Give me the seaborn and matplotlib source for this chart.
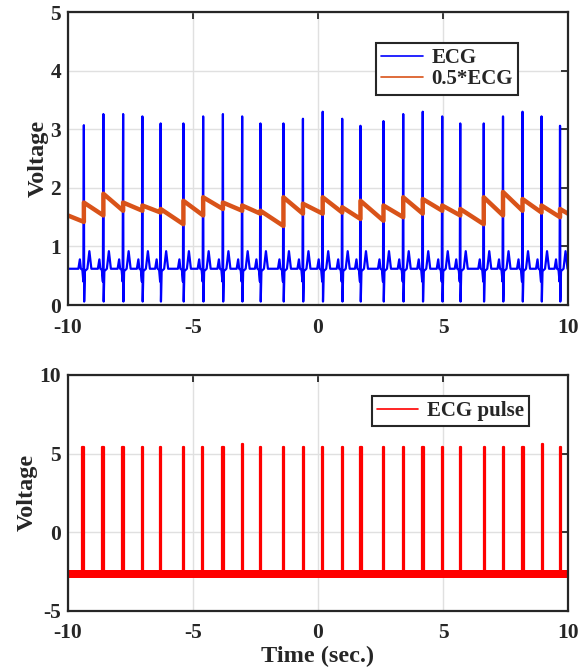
import matplotlib.pyplot as plt
import seaborn as sns
import numpy as np
import pandas as pd

sns.set_style("whitegrid")
plt.rcParams['font.family'] = ['Liberation Serif', 'DejaVu Serif']
plt.rcParams['font.weight'] = 'bold'
plt.rcParams['axes.unicode_minus'] = False

# beat (R-peak) times in seconds
beat_t = [-9.36, -8.58, -7.79, -7.02, -6.29, -5.38, -4.59, -3.80, -3.03, -2.30,
          -1.38, -0.60, 0.19, 0.97, 1.70, 2.62, 3.41, 4.19, 4.97, 5.69,
          6.63, 7.40, 8.18, 8.94, 9.68]
# R-peak heights of the ECG trace
r_peak = [3.07, 3.26, 3.26, 3.22, 3.10, 3.10, 3.22, 3.26, 3.22, 3.10,
          3.10, 3.18, 3.30, 3.18, 3.06, 3.14, 3.26, 3.30, 3.22, 3.10,
          3.10, 3.22, 3.30, 3.22, 3.06]
# one beat shape around R: offsets (s) and voltages (R value is filled per beat)
beat_off = [-0.22, -0.16, -0.12, -0.06, -0.02, 0.0, 0.012, 0.04, 0.14, 0.22, 0.30]
beat_val = [0.62, 0.78, 0.62, 0.60, 0.40, None, 0.06, 0.58, 0.62, 0.92, 0.62]
ecg_base = 0.62

# 0.5*ECG trace: value at start and end of each segment between beats
half_start = [1.53, 1.75, 1.90, 1.75, 1.70, 1.64, 1.78, 1.84, 1.75, 1.70, 1.61, 1.84, 1.73,
              1.84, 1.67, 1.78, 1.70, 1.84, 1.81, 1.70, 1.64, 1.84, 1.93, 1.81, 1.70, 1.64]
half_end = [1.42, 1.53, 1.61, 1.61, 1.58, 1.38, 1.53, 1.64, 1.61, 1.56, 1.35, 1.56, 1.56,
            1.58, 1.47, 1.44, 1.50, 1.56, 1.61, 1.53, 1.38, 1.53, 1.61, 1.58, 1.50, 1.56]

# ECG pulse trace
pulse_t = [-9.39, -8.59, -7.80, -7.03, -6.30, -5.39, -4.61, -3.80, -3.03, -2.30,
           -1.37, -0.59, 0.19, 0.97, 1.72, 2.63, 3.42, 4.20, 4.98, 5.70,
           6.66, 7.42, 8.20, 8.97, 9.70]
pulse_h = [5.4, 5.4, 5.4, 5.4, 5.4, 5.4, 5.4, 5.4, 5.6, 5.4,
           5.4, 5.4, 5.4, 5.4, 5.4, 5.4, 5.4, 5.4, 5.4, 5.4,
           5.4, 5.4, 5.4, 5.6, 5.4]
pulse_low = -2.65
pulse_band = (-2.9, -2.4)
pulse_w = 0.025

# build traces
ecg_x, ecg_y = [-10.0], [ecg_base]
for t, r in zip(beat_t, r_peak):
    for o, v in zip(beat_off, beat_val):
        ecg_x.append(t + o)
        ecg_y.append(r if v is None else v)
ecg_x.append(10.0)
ecg_y.append(ecg_base)
ecg = pd.DataFrame({"t": ecg_x, "v": ecg_y})

edges = [-10.0] + beat_t + [10.0]
half_x, half_y = [], []
for i in range(len(half_start)):
    half_x += [edges[i], edges[i + 1]]
    half_y += [half_start[i], half_end[i]]
half = pd.DataFrame({"t": half_x, "v": half_y})

px, py = [-10.0], [pulse_low]
for t, h in zip(pulse_t, pulse_h):
    px += [t - pulse_w, t - pulse_w, t + pulse_w, t + pulse_w]
    py += [pulse_low, h, h, pulse_low]
px.append(10.0)
py.append(pulse_low)
pulse = pd.DataFrame({"t": px, "v": py})

fig = plt.figure(figsize=(5.85, 6.72), dpi=100)
ax1 = fig.add_axes([0.116, 0.546, 0.855, 0.436])
ax2 = fig.add_axes([0.116, 0.091, 0.855, 0.351])

sns.lineplot(data=ecg, x="t", y="v", ax=ax1, color="#0000ff", lw=1.6,
             estimator=None, sort=False, label="ECG")
sns.lineplot(data=half, x="t", y="v", ax=ax1, color="#d95319", lw=3.2,
             estimator=None, sort=False, label="0.5*ECG")

ax2.fill_between([-10, 10], pulse_band[0], pulse_band[1], color="#ff0000", lw=0)
sns.lineplot(data=pulse, x="t", y="v", ax=ax2, color="#ff0000", lw=1.6,
             estimator=None, sort=False, label="ECG pulse")

for ax, ylim, yt in [(ax1, (0, 5), range(0, 6)), (ax2, (-5, 10), [-5, 0, 5, 10])]:
    ax.set_xlim(-10, 10)
    ax.set_ylim(*ylim)
    ax.set_xticks([-10, -5, 0, 5, 10])
    ax.set_yticks(list(yt))
    ax.grid(True, color="#e0e0e0", lw=1.0)
    ax.set_axisbelow(True)
    for s in ax.spines.values():
        s.set_visible(True)
        s.set_color("#262626")
        s.set_linewidth(1.6)
    ax.tick_params(direction="in", length=5, width=1.3, top=True, right=True,
                   labelsize=15.5, colors="#262626")
    ax.tick_params(axis="x", pad=9)
    ax.tick_params(axis="y", pad=5)
    for lab in ax.get_xticklabels() + ax.get_yticklabels():
        lab.set_fontweight("bold")
    ax.set_ylabel("Voltage", fontsize=17.5, fontweight="bold", color="#262626", labelpad=1)
    ax.set_xlabel("")

ax2.set_xlabel("Time (sec.)", fontsize=17.5, fontweight="bold", color="#262626", labelpad=2)

leg_kw = dict(fontsize=15, frameon=True, fancybox=False, edgecolor="#262626",
              framealpha=1, handlelength=2.0, borderpad=0.25, labelspacing=0.05,
              handletextpad=0.4, borderaxespad=0)
l1 = ax1.legend(loc="upper right", bbox_to_anchor=(0.90, 0.894), **leg_kw)
l2 = ax2.legend(loc="upper right", bbox_to_anchor=(0.922, 0.912), **leg_kw)
for l in (l1, l2):
    l.get_frame().set_linewidth(1.5)
    for line in l.get_lines():
        line.set_linewidth(1.2)
    for t in l.get_texts():
        t.set_fontweight("bold")

fig.savefig("out.png", dpi=100)
